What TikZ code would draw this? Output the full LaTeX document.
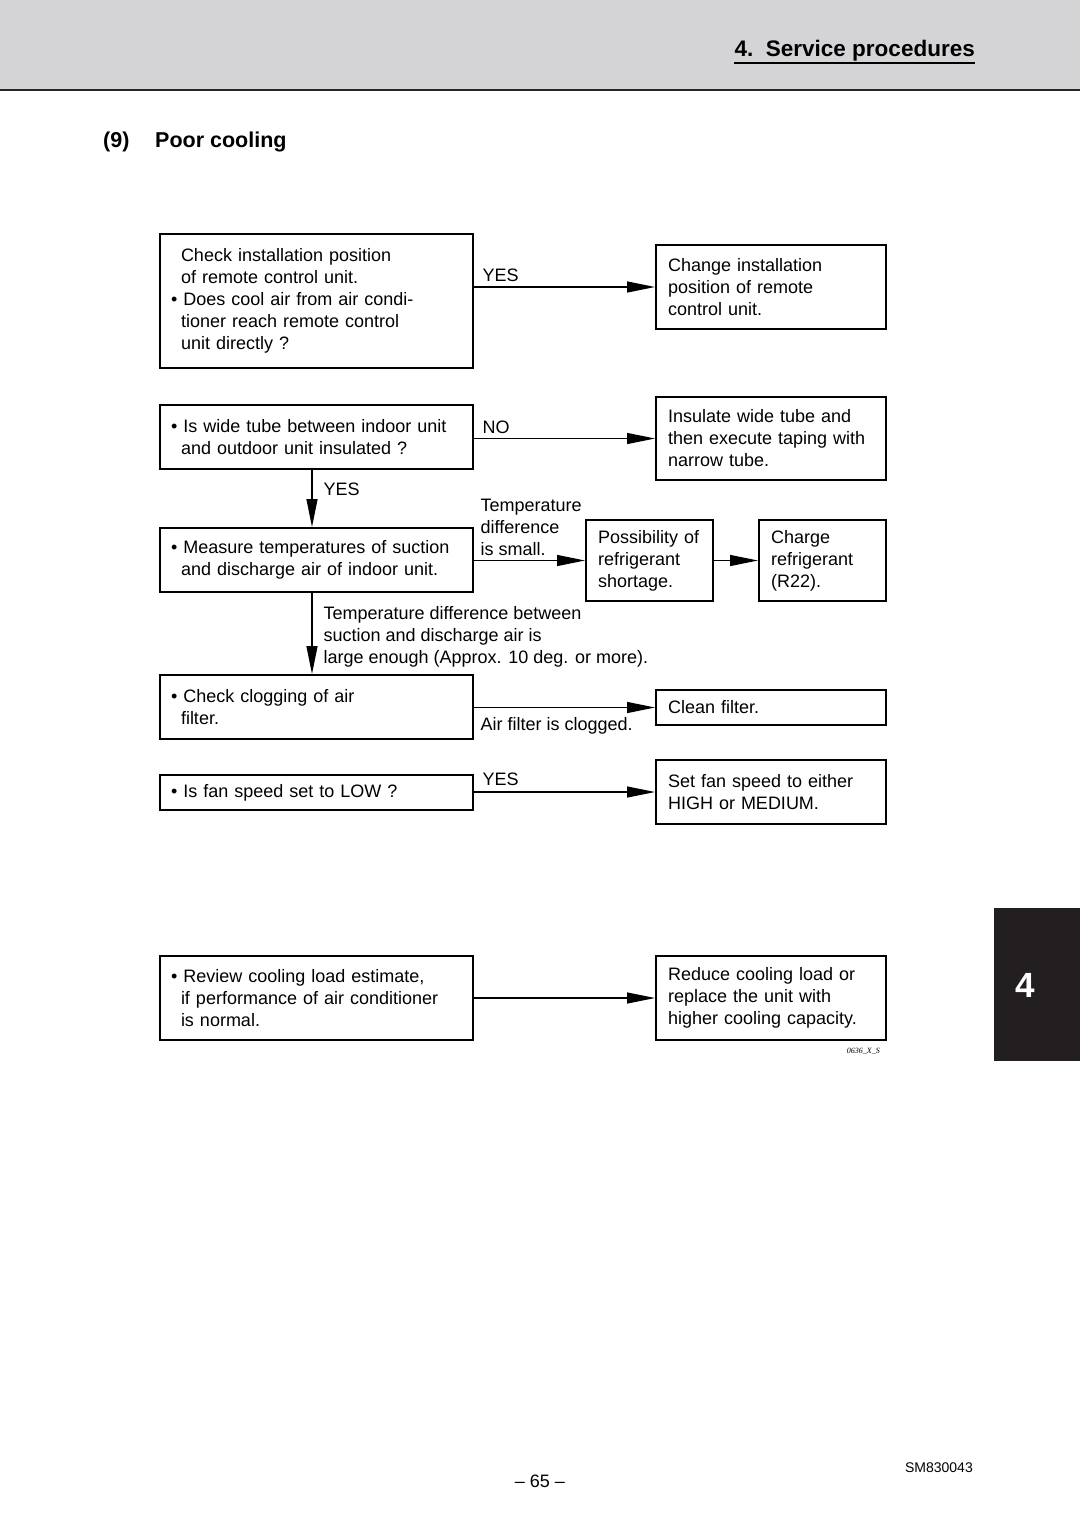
\documentclass[tikz,border=0pt]{standalone}
\usepackage{fontspec}
\setmainfont{Liberation Sans}
\newfontfamily\codefont{Liberation Serif}
\usepackage{xcolor}
\usetikzlibrary{positioning, arrows.meta}
\definecolor{bandgray}{HTML}{D4D4D6}
\definecolor{tabblack}{HTML}{231F20}
\newcommand{\ind}{\hspace*{10pt}}

\begin{document}
\begin{tikzpicture}
    [
      x=1pt, y=-1pt,
      every node/.style = {font=\fontsize{18}{22}\selectfont},
      qbox/.style = {draw, line width=2pt, anchor=north west, align=left, inner xsep=11pt, inner ysep=0pt, text width=291pt},
      abox/.style = {draw, line width=2pt, anchor=north west, align=left, inner xsep=12pt, inner ysep=0pt, text width=206pt},
      sbox/.style = {draw, line width=2pt, anchor=north west, align=left, inner xsep=12pt, inner ysep=0pt, text width=103pt},
      arr/.style = {line width=1.2pt, -{Triangle[length=28pt, width=11pt]}},
      lbl/.style = {inner sep=0pt, align=left}
    ]
    \useasboundingbox (0,0) rectangle (1080,1525);

    % page header
    \fill[bandgray] (0,0) rectangle (1080,90);
    \draw[line width=2.5pt, black!85] (0,90) -- (1080,90);
    \node[font={\fontsize{22.5}{27}\selectfont\bfseries}, inner sep=0pt, anchor=base east] (hdr) at (975,57) {4.\ \ Service procedures};
    \draw[line width=2pt] ([yshift=-6pt]hdr.base west) -- ([yshift=-6pt]hdr.base east);

    \node[font={\fontsize{21.5}{26}\selectfont\bfseries}, inner sep=0pt, anchor=base west] (num) at (103,148) {(9)};
    \node[font={\fontsize{21.5}{26}\selectfont\bfseries}, inner sep=0pt, anchor=base west] (title) at (155,148) {Poor cooling};

    % checks (left) and remedies (right)
    \node[qbox, minimum height=134pt] (chkpos) at (159,233) {\ind Check installation position\\ \ind of remote control unit.\\ \textbullet\ Does cool air from air condi-\\ \ind tioner reach remote control\\ \ind unit directly ?};
    \node[abox, minimum height=84pt] (mvpos) at (655,244) {Change installation\\ position of remote\\ control unit.};

    \node[qbox, minimum height=64pt] (insul) at (159,404) {\textbullet\ Is wide tube between indoor unit\\ \ind and outdoor unit insulated ?};
    \node[abox, minimum height=83pt] (taping) at (655,396) {Insulate wide tube and\\ then execute taping with\\ narrow tube.};

    \node[qbox, minimum height=64pt] (measure) at (159,527) {\textbullet\ Measure temperatures of suction\\ \ind and discharge air of indoor unit.};
    \node[sbox, minimum height=81pt] (shortage) at (585,519) {Possibility of\\ refrigerant\\ shortage.};
    \node[sbox, minimum height=81pt] (charge) at (758,519) {Charge\\ refrigerant\\ (R22).};

    \node[qbox, minimum height=64pt] (filter) at (159,674) {\textbullet\ Check clogging of air\\ \ind filter.};
    \node[abox, minimum height=35pt] (clean) at (655,689) {Clean filter.};

    \node[qbox, minimum height=35pt] (fanlow) at (159,774) {\textbullet\ Is fan speed set to LOW ?};
    \node[abox, minimum height=64pt] (fanset) at (655,759) {Set fan speed to either\\ HIGH or MEDIUM.};

    \node[qbox, minimum height=84pt] (review) at (159,955) {\textbullet\ Review cooling load estimate,\\ \ind if performance of air conditioner\\ \ind is normal.};
    \node[abox, minimum height=84pt] (reduce) at (655,955) {Reduce cooling load or\\ replace the unit with\\ higher cooling capacity.};

    % connectors
    \draw[arr] (mvpos.west -| chkpos.east) -- node[lbl, pos=0, anchor=base west, xshift=8pt, yshift=6pt] (yes1) {YES} (mvpos.west);
    \draw[arr] (taping.west -| insul.east) -- node[lbl, pos=0, anchor=base west, xshift=8pt, yshift=5.5pt] (no1) {NO} (taping.west);
    \draw[arr] ([xshift=-4.5pt]insul.south) -- node[lbl, pos=0, anchor=base west, xshift=11pt, yshift=-25pt] (yes2) {YES} ([xshift=-4.5pt]measure.north);
    \draw[arr] (shortage.west -| measure.east) -- node[lbl, pos=0, anchor=north west, xshift=6pt, yshift=61.5pt] (small) {Temperature\\ difference\\ is small.} (shortage.west);
    \draw[arr] (shortage) -- (charge);
    \draw[arr] ([xshift=-4.5pt]measure.south) -- node[lbl, pos=0, anchor=north west, xshift=11pt, yshift=-13pt] (large) {Temperature difference between\\ suction and discharge air is\\ large enough (Approx. 10 deg. or more).} ([xshift=-4.5pt]filter.north);
    \draw[arr] (clean.west -| filter.east) -- node[lbl, pos=0, anchor=base west, xshift=6pt, yshift=-22.5pt] (clogged) {Air filter is clogged.} (clean.west);
    \draw[arr] (fanset.west -| fanlow.east) -- node[lbl, pos=0, anchor=base west, xshift=8pt, yshift=6.5pt] (yes3) {YES} (fanset.west);
    \draw[arr] (review) -- (reduce);

    \node[font={\codefont\itshape\fontsize{8}{9}\selectfont}, inner sep=0pt, anchor=base east] (code) at (880,1053) {0636\_X\_S};

    % chapter tab and footer
    \fill[tabblack] (994,908) rectangle (1080,1061);
    \node[text=white, font={\fontsize{35}{40}\selectfont\bfseries}, inner sep=0pt] (chap) at (1025,985) {4};
    \node[inner sep=0pt, anchor=base] (page) at (540,1487) {\textendash\ 65 \textendash};
    \node[font={\fontsize{14}{16}\selectfont}, inner sep=0pt, anchor=base east] (docno) at (973,1472) {SM830043};
  \end{tikzpicture}
\end{document}
